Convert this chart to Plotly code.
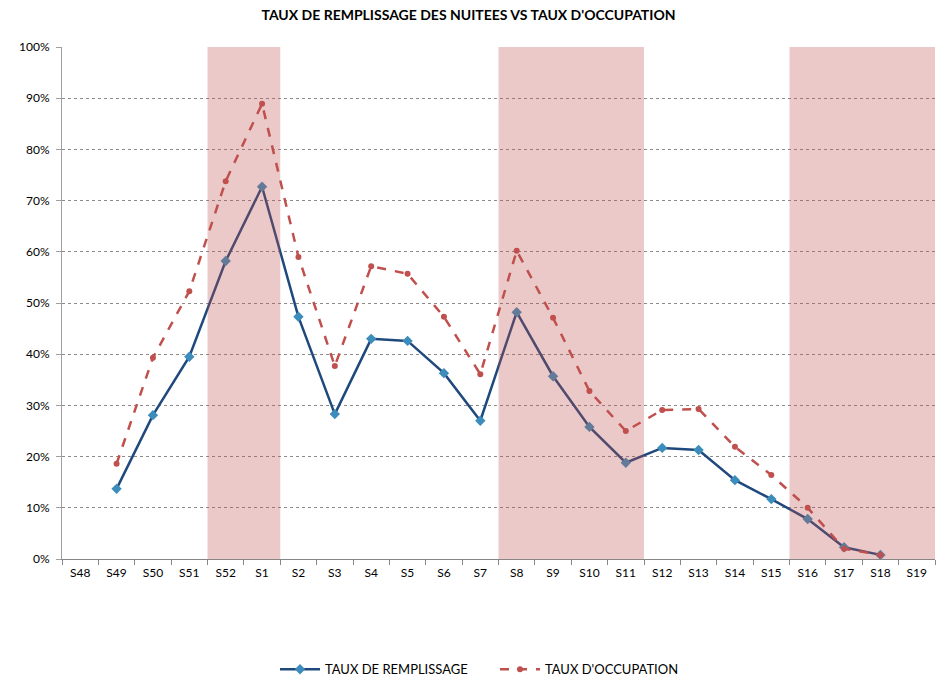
import plotly.graph_objects as go

weeks = ["S48", "S49", "S50", "S51", "S52", "S1", "S2", "S3", "S4", "S5", "S6", "S7",
         "S8", "S9", "S10", "S11", "S12", "S13", "S14", "S15", "S16", "S17", "S18", "S19"]

remplissage = [None, 0.137, 0.281, 0.395, 0.582, 0.727, 0.473, 0.283, 0.430, 0.426, 0.363, 0.270,
               0.482, 0.357, 0.258, 0.188, 0.217, 0.213, 0.154, 0.117, 0.078, 0.023, 0.008, None]
occupation = [None, 0.186, 0.393, 0.523, 0.738, 0.889, 0.590, 0.377, 0.572, 0.557, 0.473, 0.361,
              0.602, 0.471, 0.328, 0.250, 0.291, 0.293, 0.219, 0.164, 0.100, 0.020, 0.008, None]

# shaded periods (first and last week of each band)
periods = [("S52", "S1"), ("S8", "S11"), ("S16", "S19")]

FONT = "Lato, Open Sans, sans-serif"

fig = go.Figure()

fig.add_trace(go.Scatter(
    x=weeks, y=remplissage, name="TAUX DE REMPLISSAGE", mode="lines+markers",
    line=dict(color="#1F497D", width=2.5),
    marker=dict(symbol="diamond", size=8, color="#3C8DBC"),
))
fig.add_trace(go.Scatter(
    x=weeks, y=occupation, name="TAUX D'OCCUPATION", mode="lines+markers",
    line=dict(color="#C0504D", width=2.5, dash="dash"),
    marker=dict(symbol="circle", size=6, color="#C0504D"),
))

for start, end in periods:
    fig.add_shape(
        type="rect", xref="x", yref="y",
        x0=weeks.index(start) - 0.5, x1=weeks.index(end) + 0.5,
        y0=0, y1=1,
        fillcolor="rgba(192,80,77,0.31)", line=dict(width=0), layer="above",
    )

fig.update_layout(
    width=937, height=678,
    paper_bgcolor="white", plot_bgcolor="white",
    margin=dict(l=62, r=2, t=47, b=119, autoexpand=False),
    title=dict(text="<b>TAUX DE REMPLISSAGE DES NUITEES VS TAUX D'OCCUPATION</b>",
               x=0.5, xanchor="center", y=0.985, yanchor="top",
               font=dict(family=FONT, size=14, color="black")),
    font=dict(family=FONT, size=12, color="black"),
    xaxis=dict(
        type="category", categoryorder="array", categoryarray=weeks,
        range=[-0.5, len(weeks) - 0.5], automargin=False,
        showgrid=False, showline=True, linecolor="#868686", linewidth=1,
        ticks="outside", tickson="boundaries", ticklen=5, tickcolor="#868686",
        tickfont=dict(size=12), ticklabelstandoff=3,
    ),
    yaxis=dict(
        range=[0, 1], dtick=0.1, tickformat=".0%", automargin=False,
        showgrid=True, gridcolor="#8C8C8C", griddash="dot", gridwidth=1,
        showline=True, linecolor="#A0A0A0", linewidth=1,
        ticks="outside", ticklen=5, tickcolor="#A0A0A0",
        zeroline=False, tickfont=dict(size=12), ticklabelstandoff=4,
    ),
    legend=dict(orientation="h", x=0.496, xanchor="center", y=-0.186, yanchor="top",
                font=dict(size=13), itemwidth=40, entrywidth=165, tracegroupgap=0),
)

fig.write_html("out.html", config={"displayModeBar": False},
               post_script="document.body.style.margin='0';")
